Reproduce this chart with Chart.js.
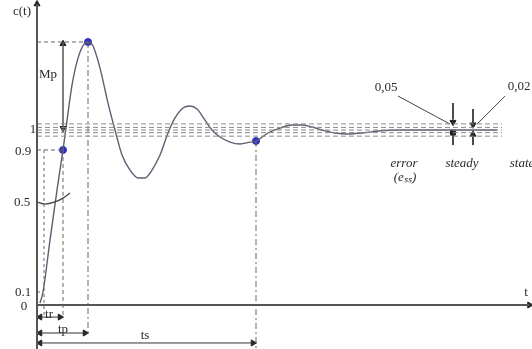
<!DOCTYPE html>
<html>
<head>
<meta charset="utf-8">
<script src="https://cdn.jsdelivr.net/npm/chart.js@4"></script>
<style>
  html, body { margin: 0; padding: 0; background: #fff; }
  canvas { display: block; }
</style>
</head>
<body>
<canvas id="stepChart" width="532" height="349"></canvas>
<script>
// Step response c(t) (t in arbitrary time units)
const respT = [0.06, 0.12, 0.26, 0.40, 0.52, 0.58, 0.70, 0.82, 0.94, 1.02, 1.12, 1.26, 1.42, 1.56, 1.70, 1.86, 2.02, 2.16, 2.30, 2.46,
               2.62, 2.76, 2.92, 3.06, 3.20, 3.36, 3.50, 3.66, 3.86, 4.06, 4.26, 4.38, 4.62, 4.86, 5.10, 5.30, 5.50, 5.70, 5.96, 6.22,
               6.50, 6.82, 7.26, 8.06, 9.2];
const respC = [0.011, 0.074, 0.371, 0.657, 0.886, 1.011, 1.257, 1.411, 1.491, 1.503, 1.48, 1.354, 1.154, 1.0, 0.857, 0.771, 0.726, 0.726, 0.771, 0.857,
               0.983, 1.069, 1.126, 1.137, 1.12, 1.057, 1.0, 0.96, 0.931, 0.92, 0.931, 0.937, 0.983, 1.011, 1.029, 1.029, 1.017, 1.0, 0.983, 0.977,
               0.983, 0.994, 1.0, 1.0, 1.0];

// key instants and levels
const t10 = 0.14, c10 = 0.074;
const tRise = 0.52, c90 = 0.886;
const tPeak = 1.02, cPeak = 1.503;
const tSettle = 4.38, cSettle = 0.937;

// tolerance band around the final value
const bandLevels = [1.035, 1.015, 1.0, 0.985, 0.965];
const bandEnd = 9.3;

// axes extents
const tMin = -0.74, tMax = 9.9;
const cMin = -0.2514, cMax = 1.743;
const axisTEnd = 9.85, axisCTop = 1.72;

// dimension arrows below the time axis
const dimEnds = [tRise, tPeak, tSettle];
const dimLevels = [-0.069, -0.16, -0.217];

// small "0.5" leader curve
const halfT = [0, 0.16, 0.36, 0.52, 0.66];
const halfC = [0.589, 0.577, 0.589, 0.611, 0.64];

// text labels
const labelTexts = ['c(t)', 'Mp', '1', '0.9', '0.5', '0.1', '0', 't', 'tr', 'tp', 'ts', '0,05', '0,02'];
const labelT = [-0.3, 0.22, -0.08, -0.28, -0.30, -0.28, -0.26, 9.78, 0.24, 0.52, 2.16, 6.98, 9.64];
const labelC = [1.674, 1.314, 1.0, 0.874, 0.583, 0.069, -0.011, 0.069, -0.052, -0.143, -0.177, 1.24, 1.246];
const italicTexts = ['error', '(e\u209B\u209B)', 'steady', 'state'];
const italicT = [7.34, 7.36, 8.5, 9.7];
const italicC = [0.811, 0.726, 0.811, 0.811];

const axisColor = '#555';
const dashColor = '#666';
const bandColor = '#8a8a8a';
const curveColor = '#5e5e72';
const dotColor = '#2f2fc4';
const headColor = '#222';

const datasets = [];

function seg(t0, c0, t1, c1, color, width, dash) {
    datasets.push({
        data: [{ x: t0, y: c0 }, { x: t1, y: c1 }],
        showLine: true,
        pointRadius: 0,
        borderColor: color,
        borderWidth: width,
        borderDash: dash || []
    });
}

function head(t, c, rot, style) {
    datasets.push({
        data: [{ x: t, y: c }],
        pointStyle: style || 'triangle',
        rotation: rot,
        pointRadius: 3.5,
        backgroundColor: headColor,
        borderColor: headColor,
        borderWidth: 1
    });
}

// axes
seg(0, cMin, 0, axisCTop, axisColor, 2);
head(0, axisCTop, 0);
seg(0, 0, axisTEnd, 0, axisColor, 2);
head(axisTEnd, 0, 90);

// band lines
bandLevels.forEach(level => seg(0, level, bandEnd, level, bandColor, 1, [5, 3]));

// dashed reference lines
seg(0, cPeak, tPeak, cPeak, dashColor, 1, [4, 3]);
seg(0, c90, tRise, c90, dashColor, 1, [4, 3]);
seg(0, c10, t10 - 0.02, c10, dashColor, 1, [3, 3]);
seg(t10, c90, t10, dimLevels[0], dashColor, 1, [3, 3]);
seg(tRise, c90, tRise, dimLevels[0], dashColor, 1, [4, 3]);
seg(tPeak, cPeak, tPeak, dimLevels[1], dashColor, 1, [6, 3, 2, 3]);
seg(tSettle, cSettle, tSettle, cMin, dashColor, 1, [6, 3, 2, 3]);

// Mp arrow
seg(tRise, cPeak, tRise, 1.0, axisColor, 1.5);
head(tRise, cPeak - 0.01, 0);
head(tRise, 1.01, 180);

// tr / tp / ts arrows
dimEnds.forEach((end, i) => {
    seg(0, dimLevels[i], end, dimLevels[i], '#333', 1);
    head(0.06, dimLevels[i], 270);
    head(end - 0.06, dimLevels[i], 90);
});

// "0.5" leader
datasets.push({
    data: halfT.map((t, i) => ({ x: t, y: halfC[i] })),
    showLine: true, pointRadius: 0, tension: 0.4,
    borderColor: '#444', borderWidth: 1.3
});

// response curve
datasets.push({
    data: respT.map((t, i) => ({ x: t, y: respC[i] })),
    showLine: true, pointRadius: 0,
    cubicInterpolationMode: 'monotone',
    borderColor: curveColor, borderWidth: 1.4
});

// band annotations on the right
seg(7.22, 1.194, 8.26, 1.034, '#444', 1);
seg(9.36, 1.194, 8.8, 1.034, '#444', 1);
seg(8.32, 1.154, 8.32, 1.06, '#333', 1);
head(8.32, 1.045, 180);
seg(8.72, 1.12, 8.72, 1.04, '#333', 1);
head(8.72, 1.03, 180);
seg(8.32, 0.975, 8.32, 0.914, '#333', 1);
head(8.32, 0.985, 0, 'rect');
seg(8.72, 0.97, 8.72, 0.914, '#333', 1);
head(8.72, 0.975, 0);

// key points
datasets.push({
    data: [{ x: tPeak, y: cPeak }, { x: tRise, y: c90 }, { x: tSettle, y: cSettle }],
    pointRadius: 3.5,
    backgroundColor: dotColor,
    borderColor: dotColor
});

const textPlugin = {
    id: 'textPlugin',
    afterDatasetsDraw(chart) {
        const { ctx, scales: { x, y } } = chart;
        ctx.save();
        ctx.fillStyle = '#2a2a2a';
        ctx.textAlign = 'center';
        ctx.textBaseline = 'middle';
        ctx.font = '13px "Liberation Serif", serif';
        labelTexts.forEach((txt, i) => {
            ctx.fillText(txt, x.getPixelForValue(labelT[i]), y.getPixelForValue(labelC[i]));
        });
        ctx.font = 'italic 13px "Liberation Serif", serif';
        italicTexts.forEach((txt, i) => {
            ctx.fillText(txt, x.getPixelForValue(italicT[i]), y.getPixelForValue(italicC[i]));
        });
        ctx.restore();
    }
};

new Chart(document.getElementById('stepChart'), {
    type: 'scatter',
    data: { datasets: datasets },
    options: {
        responsive: false,
        animation: false,
        layout: { padding: 0, autoPadding: false },
        plugins: { legend: { display: false }, tooltip: { enabled: false } },
        scales: {
            x: { type: 'linear', display: false, min: tMin, max: tMax },
            y: { type: 'linear', display: false, min: cMin, max: cMax }
        }
    },
    plugins: [textPlugin]
});
</script>
</body>
</html>
